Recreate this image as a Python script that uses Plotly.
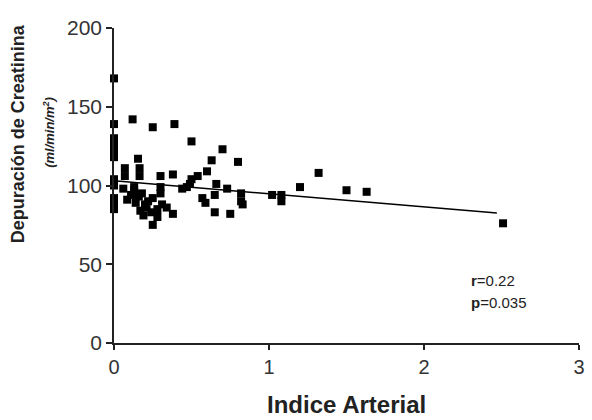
import plotly.graph_objects as go

indice_arterial = [0, 0, 0, 0, 0, 0, 0, 0, 0, 0, 0, 0,
                   0.06, 0.085, 0.07, 0.07, 0.165, 0.165, 0.12, 0.155, 0.13, 0.14, 0.17, 0.18,
                   0.20, 0.19, 0.25, 0.24, 0.28, 0.25, 0.31, 0.30, 0.34, 0.38, 0.30, 0.38,
                   0.25, 0.39, 0.44, 0.47, 0.49, 0.50, 0.54, 0.60, 0.50, 0.70, 0.63, 0.80,
                   0.66, 0.73, 0.57, 0.59, 0.65, 0.65, 0.75, 0.82, 0.82, 0.83, 1.02, 1.08,
                   1.08, 1.20, 1.32, 1.50, 1.63, 2.51, 0.13, 0.16, 0.22, 0.21, 0.28, 0.30, 0.11]
depuracion = [168, 139, 130, 127, 124, 121, 118, 104, 100, 92, 88, 85,
              98, 91, 111, 106, 111, 106, 142, 117, 97, 89, 84, 95,
              88, 81, 92, 83, 80, 75, 88, 95, 86, 82, 106, 107,
              137, 139, 98, 99, 101, 104, 106, 109, 128, 123, 116, 115,
              101, 98, 92, 89, 94, 83, 82, 95, 90, 88, 94, 94,
              90, 99, 108, 97, 96, 76, 99, 93, 90, 86, 85, 99, 94]

reg_x = [0, 2.47]
reg_y = [103, 82.5]

font_family = "Liberation Sans, Arial, Helvetica, sans-serif"

fig = go.Figure()
fig.add_trace(go.Scatter(x=reg_x, y=reg_y, mode="lines",
                         line=dict(color="black", width=1.5), cliponaxis=False,
                         showlegend=False, hoverinfo="skip"))
fig.add_trace(go.Scatter(x=indice_arterial, y=depuracion, mode="markers",
                         marker=dict(symbol="square", size=8, color="black"),
                         cliponaxis=False, showlegend=False))

axis_common = dict(showgrid=False, zeroline=False, showline=True, linecolor="#222",
                   linewidth=1.5, ticks="outside", tickwidth=1.5, tickcolor="#222")

fig.update_xaxes(range=[0, 3], tickvals=[0, 1, 2, 3], ticklen=5,
                 tickfont=dict(family=font_family, size=20, color="#333"), **axis_common)
fig.update_yaxes(range=[0, 200], tickvals=[0, 50, 100, 150, 200], ticklen=6,
                 tickfont=dict(family=font_family, size=21, color="#333"), **axis_common)

fig.add_annotation(text="<b>Indice Arterial</b>", xref="paper", yref="paper",
                   x=0.5, y=-0.195, xanchor="center", yanchor="middle", showarrow=False,
                   font=dict(family=font_family, size=24, color="#222"))
fig.add_annotation(text="<b>Depuración de Creatinina</b>", xref="paper", yref="paper",
                   x=-0.207, y=0.665, xanchor="center", yanchor="middle", textangle=-90,
                   showarrow=False, font=dict(family=font_family, size=18, color="#222"))
fig.add_annotation(text="<b><i>(ml/min/m<sup>2</sup>)</i></b>", xref="paper", yref="paper",
                   x=-0.14, y=0.67, xanchor="center", yanchor="middle", textangle=-90,
                   showarrow=False, font=dict(family=font_family, size=13, color="#222"))
fig.add_annotation(text="<b>r</b>=0.22", x=2.29, y=40,
                   xanchor="left", yanchor="middle", align="left", showarrow=False,
                   font=dict(family=font_family, size=15, color="#222"))
fig.add_annotation(text="<b>p</b>=0.035", x=2.29, y=25.5,
                   xanchor="left", yanchor="middle", align="left", showarrow=False,
                   font=dict(family=font_family, size=15, color="#222"))

fig.update_layout(width=592, height=420, margin=dict(l=114, r=7, t=28, b=77),
                  paper_bgcolor="white", plot_bgcolor="white")

fig.write_html("out.html")
